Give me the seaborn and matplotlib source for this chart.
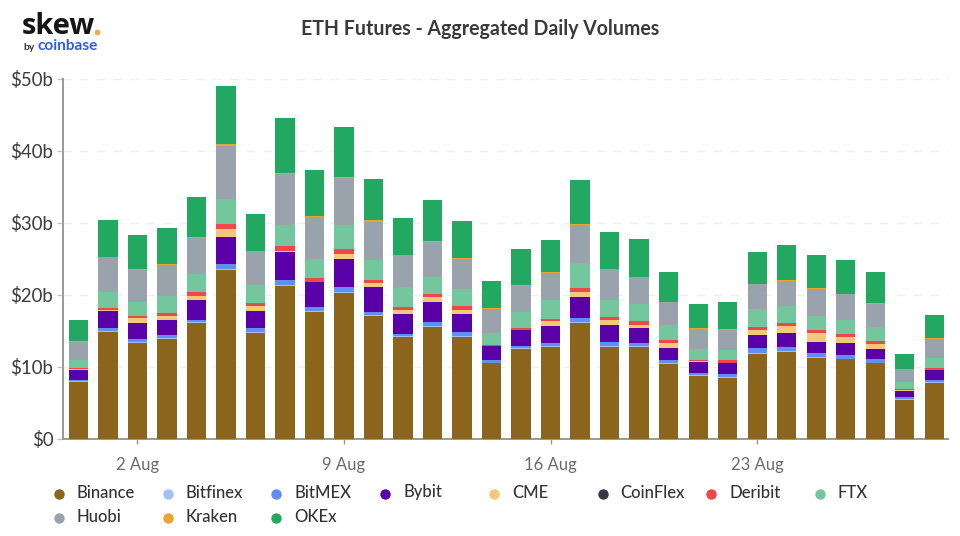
import matplotlib
matplotlib.use('Agg')
import matplotlib.pyplot as plt
from matplotlib.lines import Line2D
import numpy as np
import pandas as pd
import seaborn as sns

# ------------------------------
# data ($b)
# ------------------------------
days = list(pd.date_range('2021-07-31', periods=30).strftime('%d %b'))
tick_pos = [2, 9, 16, 23]
tick_labels = ['2 Aug', '9 Aug', '16 Aug', '23 Aug']
y_ticks = [0, 10, 20, 30, 40, 50]
y_labels = ['$0', '$10b', '$20b', '$30b', '$40b', '$50b']

binance = [7.83, 14.8, 13.3, 13.86, 16.04, 23.5, 14.74, 21.2, 17.6, 20.2, 17.08, 14.1, 15.46, 14.16, 10.45,
           12.5, 12.68, 16.1, 12.77, 12.68, 10.36, 8.7, 8.37, 11.75, 12.03, 11.2, 11.0, 10.45, 5.35, 7.67]
bitfinex = [0.12, 0.12, 0.12, 0.12, 0.12, 0.12, 0.12, 0.12, 0.12, 0.12, 0.12, 0.12, 0.12, 0.12, 0.12,
            0.12, 0.12, 0.12, 0.12, 0.12, 0.12, 0.12, 0.12, 0.12, 0.12, 0.12, 0.12, 0.12, 0.12, 0.12]
bitmex = [0.25, 0.38, 0.44, 0.39, 0.39, 0.68, 0.44, 0.78, 0.55, 0.78, 0.40, 0.36, 0.58, 0.58, 0.30,
          0.24, 0.44, 0.54, 0.58, 0.53, 0.42, 0.28, 0.53, 0.67, 0.53, 0.53, 0.45, 0.53, 0.30, 0.35]
bybit = [1.35, 2.5, 2.27, 2.18, 2.69, 3.77, 2.5, 3.9, 3.43, 3.8, 3.47, 2.78, 2.82, 2.5, 1.99,
         2.18, 2.45, 2.97, 2.36, 1.99, 1.73, 1.6, 1.48, 1.86, 2.04, 1.62, 1.67, 1.4, 0.88, 1.34]
cme = [0.05, 0.05, 0.57, 0.45, 0.56, 1.03, 0.6, 0.05, 0.05, 0.8, 0.6, 0.51, 0.65, 0.54, 0.04,
       0.02, 0.65, 0.64, 0.65, 0.47, 0.65, 0.03, 0.03, 0.64, 0.88, 1.16, 0.92, 0.64, 0.03, 0.03]
coinflex = [0.01, 0.01, 0.01, 0.01, 0.01, 0.01, 0.01, 0.01, 0.01, 0.01, 0.01, 0.01, 0.01, 0.01, 0.01,
            0.01, 0.01, 0.01, 0.01, 0.01, 0.01, 0.01, 0.01, 0.01, 0.01, 0.01, 0.01, 0.01, 0.01, 0.01]
deribit = [0.18, 0.35, 0.35, 0.5, 0.6, 0.7, 0.47, 0.65, 0.55, 0.6, 0.37, 0.42, 0.42, 0.48, 0.15,
           0.26, 0.33, 0.56, 0.47, 0.51, 0.47, 0.24, 0.34, 0.46, 0.46, 0.47, 0.42, 0.46, 0.16, 0.29]
ftx = [1.07, 2.15, 1.91, 2.3, 2.46, 3.5, 2.43, 3.0, 2.7, 3.4, 2.76, 2.78, 2.35, 2.37, 1.67,
       2.28, 2.53, 3.52, 2.25, 2.4, 2.05, 1.53, 1.39, 2.47, 2.37, 1.94, 1.85, 1.95, 1.02, 1.4]
huobi = [2.6, 4.82, 4.44, 4.35, 5.04, 7.4, 4.7, 7.05, 5.8, 6.5, 5.37, 4.4, 4.88, 4.2, 3.34,
         3.65, 3.8, 5.25, 4.3, 3.7, 3.14, 2.78, 2.88, 3.47, 3.47, 3.71, 3.62, 3.11, 1.76, 2.68]
kraken = [0.08, 0.1, 0.1, 0.1, 0.15, 0.25, 0.12, 0.2, 0.15, 0.15, 0.15, 0.1, 0.12, 0.11, 0.04,
          0.1, 0.1, 0.1, 0.1, 0.1, 0.1, 0.08, 0.08, 0.09, 0.12, 0.12, 0.1, 0.12, 0.07, 0.1]
okex = [2.97, 5.13, 4.8, 5.05, 5.5, 8.0, 5.05, 7.6, 6.4, 6.9, 5.79, 5.1, 5.77, 5.14, 3.85,
        4.95, 4.45, 6.1, 5.1, 5.2, 4.13, 3.38, 3.71, 4.41, 4.91, 4.6, 4.68, 4.36, 2.1, 3.22]

names = ['Binance', 'Bitfinex', 'BitMEX', 'Bybit', 'CME', 'CoinFlex', 'Deribit', 'FTX', 'Huobi', 'Kraken', 'OKEx']
series = [binance, bitfinex, bitmex, bybit, cme, coinflex, deribit, ftx, huobi, kraken, okex]
colors = ['#8b651b', '#a3bffa', '#5f8ff0', '#5a00a8', '#f2c879', '#363a45', '#f04848', '#74c69d', '#9aa3ac', '#eba42c', '#22a861']

# ------------------------------
# chart
# ------------------------------
sns.set_theme(style='white')
plt.rcParams['font.family'] = ['Lato', 'DejaVu Sans']

W, H = 960, 536
fig = plt.figure(figsize=(W / 100, H / 100), dpi=100)
ax = fig.add_axes([63 / W, 1 - 438.5 / H, (948 - 63) / W, (438.5 - 79) / H])

bottom = np.zeros(len(days))
for vals, col in zip(series, colors):
    sns.barplot(x=days, y=vals, bottom=bottom, color=col, saturation=1, width=0.65,
                linewidth=0, errorbar=None, ax=ax, zorder=3)
    bottom = bottom + np.array(vals)

ax.set_xlim(-0.525, 29.47)
ax.set_ylim(0, 50)
ax.set_xlabel('')
ax.set_ylabel('')
ax.set_xticks(tick_pos)
ax.set_xticklabels(tick_labels, fontsize=12, color='#6b6b6b')
ax.set_yticks(y_ticks)
ax.set_yticklabels(y_labels, fontsize=13.4, color='#3c3c3c')
ax.tick_params(axis='x', length=3.5, width=1, color='#999999', pad=10, bottom=True)
ax.tick_params(axis='y', length=4, width=1, color='#c0c0c0', pad=3, left=True)
ax.grid(axis='y', color='#eeeeee', linestyle=(0, (6, 6)), linewidth=1)
ax.set_axisbelow(True)
sns.despine(ax=ax)
for side in ['left', 'bottom']:
    ax.spines[side].set_color('#999999')
    ax.spines[side].set_linewidth(1.4)

fig.text(480 / W, 1 - 29 / H, 'ETH Futures - Aggregated Daily Volumes', ha='center', va='center',
         fontsize=14.05, fontweight='bold', color='#3a3a3a')

# logo
fig.text(22 / W, 1 - 33.5 / H, 'skew', fontsize=21, fontweight='bold', color='#151515',
         family=['Open Sans', 'DejaVu Sans'], va='baseline')
fig.add_artist(Line2D([96.5 / W], [1 - 32 / H], marker='o', ms=4.2, color='#e8b04a', mew=0, transform=fig.transFigure))
fig.text(23 / W, 1 - 50 / H, 'by', fontsize=7.5, fontweight='bold', color='#333333', va='baseline')
fig.text(37 / W, 1 - 50 / H, 'coinbase', fontsize=11.1, fontweight='bold', color='#2f5cf0', va='baseline')

# legend, fixed grid of dots and labels
for i, (name, col) in enumerate(zip(names, colors)):
    row = 0 if i < 8 else 1
    col_i = i if i < 8 else i - 8
    x_dot = 59 + col_i * 108.7
    y_dot = 494 + row * 24
    fig.add_artist(Line2D([x_dot / W], [1 - y_dot / H], marker='o', ms=7.5, color=col, mew=0,
                          transform=fig.transFigure))
    fig.text((x_dot + 18) / W, 1 - (y_dot - 1.5) / H, name, fontsize=12, fontweight='medium',
             color='#333333', va='center')

fig.savefig('out.png', dpi=100)
